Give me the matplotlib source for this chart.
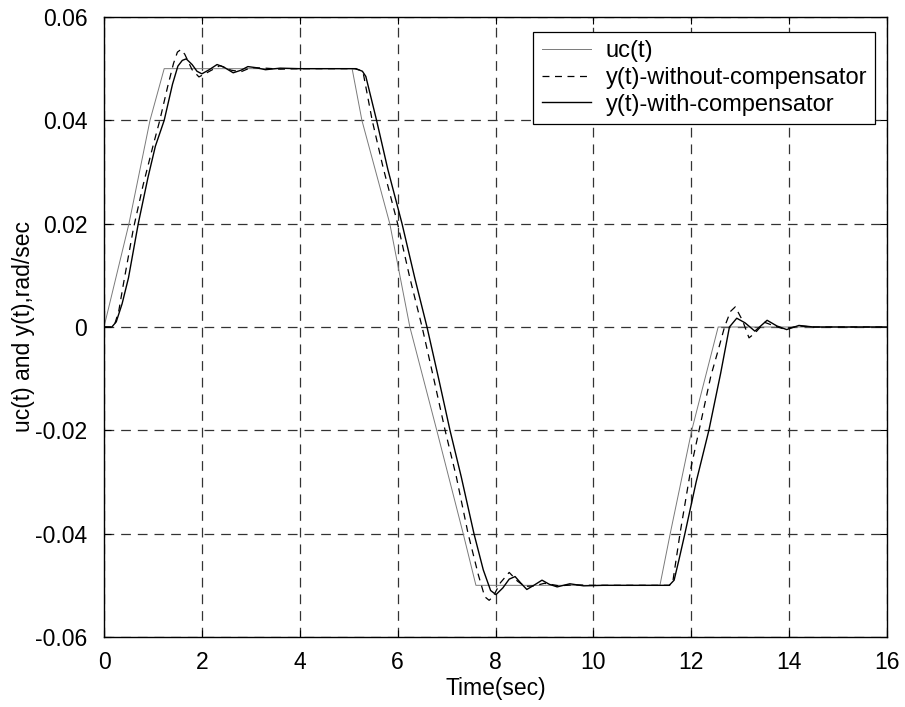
import matplotlib
matplotlib.use("Agg")
import matplotlib.pyplot as plt
from matplotlib.ticker import FuncFormatter

plt.rcParams['font.family'] = ['Liberation Sans', 'DejaVu Sans']
plt.rcParams['lines.scale_dashes'] = False

# reference input uc(t)
t_uc = [0, 0.51, 0.94, 1.23, 5.07, 5.27, 5.84, 6.25, 6.8, 7.34, 7.6, 11.36, 11.57, 12.01, 12.55, 16]
v_uc = [0, 0.02, 0.04, 0.05, 0.05, 0.04, 0.02, 0.0, -0.02, -0.04, -0.05, -0.05, -0.04, -0.02, 0.0, 0.0]

# output without compensator
t_wo = [0, 0.15, 0.22, 0.3, 0.4, 0.6, 0.8, 1.0, 1.14, 1.3, 1.42, 1.5, 1.57, 1.65, 1.8, 1.94, 2.1,
        2.37, 2.6, 2.8, 3.0, 3.3, 3.6, 4.0, 5.12, 5.23, 5.3, 5.48, 5.7, 6.0, 6.25, 6.5, 6.75, 6.97,
        7.2, 7.44, 7.65, 7.78, 7.87, 7.95, 8.1, 8.28, 8.45, 8.6, 8.8, 9.0, 9.3, 9.6, 10.0, 11.55,
        11.62, 11.77, 12.0, 12.16, 12.4, 12.55, 12.68, 12.8, 12.9, 13.05, 13.18, 13.3, 13.5, 13.7,
        13.9, 14.2, 14.5, 16]
v_wo = [0, 0, 0.0006, 0.003, 0.0085, 0.019, 0.0275, 0.035, 0.04, 0.0465, 0.051, 0.0532, 0.0537,
        0.0528, 0.0498, 0.0484, 0.0492, 0.0506, 0.0497, 0.0494, 0.0502, 0.0501, 0.0499, 0.05, 0.05,
        0.0497, 0.049, 0.04, 0.031, 0.02, 0.0095, 0.0, -0.0105, -0.02, -0.029, -0.04, -0.048,
        -0.0522, -0.0529, -0.0522, -0.0495, -0.0475, -0.0492, -0.0502, -0.0501, -0.0496, -0.0501,
        -0.0499, -0.05, -0.05, -0.0495, -0.04, -0.027, -0.02, -0.0095, -0.0045, 0.0, 0.003, 0.0039,
        0.0012, -0.0021, -0.0012, 0.0009, 0.0002, -0.0004, 0.0002, 0.0, 0.0]

# output with compensator
t_w = [0, 0.16, 0.25, 0.37, 0.5, 0.7, 0.9, 1.05, 1.23, 1.4, 1.51, 1.6, 1.68, 1.8, 1.9, 2.0, 2.15,
       2.31, 2.45, 2.64, 2.8, 2.94, 3.1, 3.3, 3.6, 4.0, 5.15, 5.28, 5.35, 5.57, 5.8, 6.09, 6.35,
       6.6, 6.85, 7.07, 7.3, 7.56, 7.75, 7.9, 8.01, 8.15, 8.28, 8.4, 8.52, 8.64, 8.8, 8.95, 9.1,
       9.26, 9.52, 9.8, 10.2, 11.55, 11.65, 11.75, 11.87, 12.1, 12.36, 12.6, 12.78, 12.93, 13.1,
       13.3, 13.55, 13.75, 13.95, 14.2, 14.5, 16]
v_w = [0, 0, 0.001, 0.0045, 0.0095, 0.02, 0.029, 0.035, 0.04, 0.047, 0.0505, 0.0516, 0.0519,
       0.0508, 0.0495, 0.049, 0.0498, 0.0508, 0.0503, 0.0492, 0.0497, 0.0504, 0.0502, 0.0498,
       0.0501, 0.05, 0.05, 0.0495, 0.0485, 0.04, 0.0305, 0.02, 0.0095, 0.0, -0.0105, -0.02,
       -0.029, -0.04, -0.047, -0.051, -0.0518, -0.0505, -0.0488, -0.0483, -0.0496, -0.0508,
       -0.0499, -0.049, -0.0498, -0.0503, -0.0497, -0.0501, -0.05, -0.05, -0.049, -0.045, -0.04,
       -0.03, -0.02, -0.009, 0.0, 0.0017, 0.0008, -0.0008, 0.0013, 0.0002, -0.0005, 0.0003, 0.0,
       0.0]

x_ticks = [0, 2, 4, 6, 8, 10, 12, 14, 16]
y_ticks = [-0.06, -0.04, -0.02, 0, 0.02, 0.04, 0.06]
labels = ['uc(t)', 'y(t)-without-compensator', 'y(t)-with-compensator']

FS = 16.5

fig = plt.figure(figsize=(9.05, 7.07), dpi=100)
ax = fig.add_axes([104/905, 70/707, 783/905, 620/707])

ax.plot(t_uc, v_uc, color='#7a7a7a', lw=0.7, label=labels[0])
ax.plot(t_wo, v_wo, color='black', lw=0.9, dashes=(5, 4), label=labels[1])
ax.plot(t_w, v_w, color='black', lw=1.0, label=labels[2])

ax.set_xlim(0, 16)
ax.set_ylim(-0.06, 0.06)
ax.set_xticks(x_ticks)
ax.set_yticks(y_ticks)
ax.yaxis.set_major_formatter(FuncFormatter(lambda v, p: '0' if abs(v) < 1e-12 else ('%g' % v)))
ax.grid(True, color='#333333', lw=0.9, dashes=(7, 5))
ax.tick_params(direction='in', top=True, right=True, labelsize=FS, length=5, width=0.8)
ax.tick_params(axis='y', pad=12)
ax.tick_params(axis='x', pad=10)
for s in ax.spines.values():
    s.set_linewidth(1.0)
    s.set_color('black')

ax.set_xlabel('Time(sec)', fontsize=FS, labelpad=2)
ax.set_ylabel('uc(t) and y(t),rad/sec', fontsize=FS, labelpad=0)

leg = ax.legend(loc='upper right', bbox_to_anchor=(0.985, 0.976), borderaxespad=0,
                fontsize=17, fancybox=False, framealpha=1, edgecolor='black',
                handlelength=2.1, labelspacing=0.2, borderpad=0.35, handletextpad=0.6)
leg.get_frame().set_linewidth(0.9)

fig.savefig('out.png', dpi=100)
